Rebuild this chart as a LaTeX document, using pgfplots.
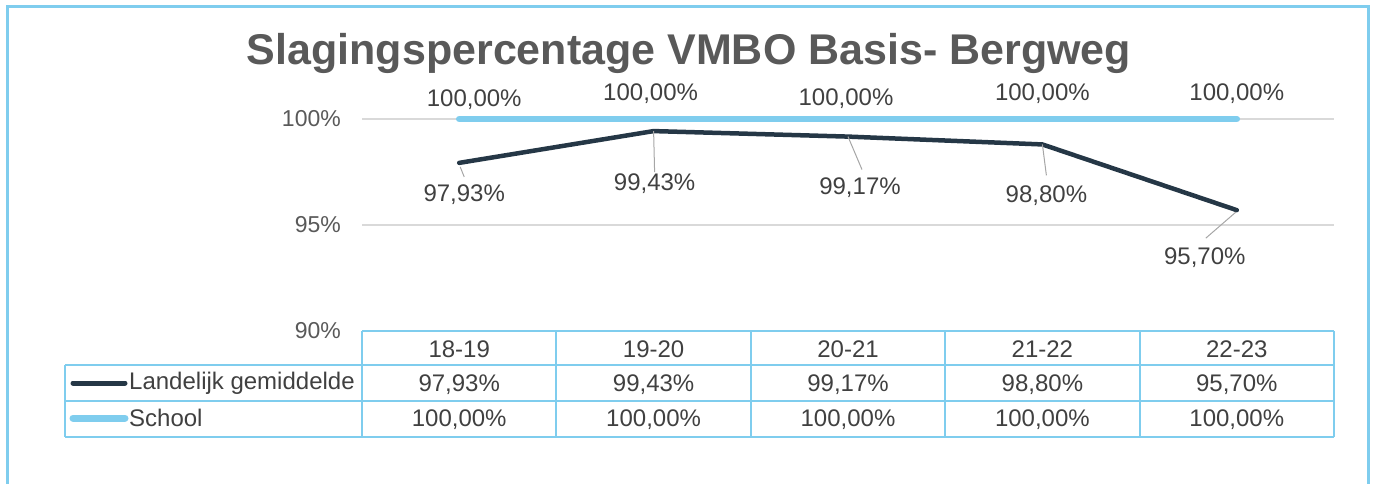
\documentclass[border=0pt]{standalone}
\usepackage{pgfplots}
\pgfplotsset{compat=1.18}
\usepackage{pgfplotstable}
\usepackage{fontspec}
\setmainfont{Liberation Sans}
\definecolor{frameblue}{HTML}{7FCDEE}
\definecolor{navy}{HTML}{253746}
\definecolor{txt}{HTML}{595959}
\definecolor{txtd}{HTML}{404040}
\definecolor{gridc}{HTML}{D9D9D9}
\definecolor{lead}{HTML}{A6A6A6}
\tikzset{lbl/.style={font=\fontsize{24}{28}\selectfont, text=txtd}}

\pgfplotstableread{
x lan school
0 97.93 100
1 99.43 100
2 99.17 100
3 98.80 100
4 95.70 100
}\data

\begin{document}
\begin{tikzpicture}
\useasboundingbox (0,0) rectangle (1375pt,483pt);
\begin{axis}[
  at={(362pt,152pt)}, anchor=south west,
  scale only axis, width=972pt, height=212pt,
  xmin=-0.5, xmax=4.5, ymin=90, ymax=100,
  axis line style={draw=none},
  xtick=\empty,
  ytick={90,95,100}, yticklabels={90\%,95\%,100\%},
  ytick style={draw=none},
  yticklabel style={font=\fontsize{23}{27}\selectfont, text=txt, inner sep=0pt, xshift=-21pt},
  ymajorgrids, grid style={gridc, line width=1.5pt},
  clip=false,
]
\addplot[frameblue, line width=6.5pt, line cap=round] table[x=x,y=school]{\data};
\addplot[navy, line width=4.5pt, line cap=round, line join=round] table[x=x,y=lan]{\data};
% school labels
\node[lbl] at (axis cs:0,100) [xshift=15pt, yshift=19pt] {100,00\%};
\node[lbl] at (axis cs:1,100) [xshift=-3pt, yshift=25pt] {100,00\%};
\node[lbl] at (axis cs:2,100) [xshift=-2pt, yshift=20pt] {100,00\%};
\node[lbl] at (axis cs:3,100) [xshift=0pt, yshift=25pt] {100,00\%};
\node[lbl] at (axis cs:4,100) [xshift=0pt, yshift=25pt] {100,00\%};
% national labels with leader lines
\draw[lead, line width=1pt] (axis cs:0,97.93) ++(1pt,-4pt) -- ++(4pt,-10pt);
\node[lbl] at (axis cs:0,97.93) [xshift=5pt, yshift=-32pt] {97,93\%};
\draw[lead, line width=1pt] (axis cs:1,99.43) -- ++(1pt,-41pt);
\node[lbl] at (axis cs:1,99.43) [xshift=1pt, yshift=-53pt] {99,43\%};
\draw[lead, line width=1pt] (axis cs:2,99.17) -- ++(14pt,-33pt);
\node[lbl] at (axis cs:2,99.17) [xshift=12pt, yshift=-51pt] {99,17\%};
\draw[lead, line width=1pt] (axis cs:3,98.80) -- ++(4pt,-31pt);
\node[lbl] at (axis cs:3,98.80) [xshift=4pt, yshift=-51pt] {98,80\%};
\draw[lead, line width=1pt] (axis cs:4,95.70) ++(-1pt,-2pt) -- ++(-30pt,-26pt);
\node[lbl] at (axis cs:4,95.70) [xshift=-32pt, yshift=-47pt] {95,70\%};
\end{axis}

\begin{scope}[x=1pt,y=-1pt,yshift=483pt]
  % outer frame
  \draw[frameblue, line width=3pt] (7,490) -- (7,7) -- (1368,7) -- (1368,490);
  % title
  \node[anchor=base, font=\fontsize{43}{50}\selectfont\bfseries, text=txt] at (689,65) {Slagingspercentage VMBO Basis- Bergweg};
  % table
  \begin{scope}[frameblue, line width=2pt]
    \draw (362,331) -- (1334,331);
    \draw (65,365) -- (1334,365);
    \draw (65,401) -- (1334,401);
    \draw (65,437) -- (1334,437);
    \draw (65,365) -- (65,437);
    \foreach \xx in {362,556.4,750.8,945.2,1139.6,1334} {\draw (\xx,331) -- (\xx,437);}
  \end{scope}
  \begin{scope}[every node/.style={lbl}]
    \node at (459.2,349) {18-19};
    \node at (653.6,349) {19-20};
    \node at (848.0,349) {20-21};
    \node at (1042.4,349) {21-22};
    \node at (1236.8,349) {22-23};
    \node at (459.2,385) {97,93\%};
    \node at (653.6,385) {99,43\%};
    \node at (848.0,385) {99,17\%};
    \node at (1042.4,385) {98,80\%};
    \node at (1236.8,385) {95,70\%};
    \node at (459.2,420) {100,00\%};
    \node at (653.6,420) {100,00\%};
    \node at (848.0,420) {100,00\%};
    \node at (1042.4,420) {100,00\%};
    \node at (1236.8,420) {100,00\%};
    \draw[navy, line width=5pt, line cap=round] (73,383) -- (125,383);
    \node[anchor=west, inner sep=0pt] at (129,383) {Landelijk gemiddelde};
    \draw[frameblue, line width=7pt, line cap=round] (73,418) -- (125,418);
    \node[anchor=west, inner sep=0pt] at (129,418) {School};
  \end{scope}
\end{scope}
\end{tikzpicture}
\end{document}
